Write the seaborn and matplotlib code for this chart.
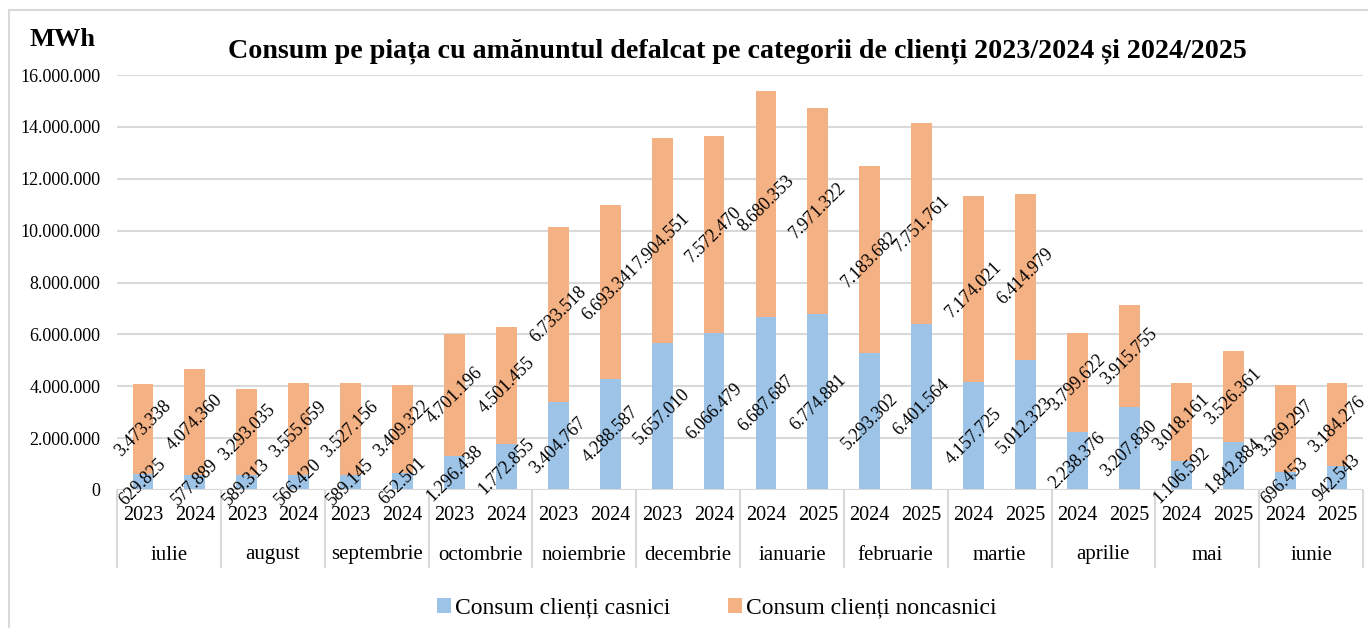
import numpy as np
import pandas as pd
import matplotlib.pyplot as plt
import seaborn as sns
from matplotlib.ticker import FuncFormatter
from matplotlib.patches import Rectangle
import matplotlib.transforms as mtransforms

months = ["iulie", "august", "septembrie", "octombrie", "noiembrie", "decembrie",
          "ianuarie", "februarie", "martie", "aprilie", "mai", "iunie"]
years = [["2023", "2024"]] * 6 + [["2024", "2025"]] * 6

casnici = [629825, 577889, 589313, 566420, 589145, 652501,
           1296438, 1772855, 3404767, 4288587, 5657010, 6066479,
           6687687, 6774881, 5293302, 6401564, 4157725, 5012323,
           2238376, 3207830, 1106592, 1842884, 696453, 942543]
noncasnici = [3473338, 4074360, 3293035, 3555659, 3527156, 3409322,
              4701196, 4501455, 6733518, 6693341, 7904551, 7572470,
              8680353, 7971322, 7183682, 7751761, 7174021, 6414979,
              3799622, 3915755, 3018161, 3526361, 3369297, 3184276]

labels = [f"{m} {y}" for m, ys in zip(months, years) for y in ys]
df = pd.DataFrame({"label": labels, "casnici": casnici, "noncasnici": noncasnici})
df["total"] = df["casnici"] + df["noncasnici"]

blue = "#9DC3E6"
orange = "#F4B183"

sns.set_style("white")
plt.rcParams["font.family"] = ["Liberation Serif", "DejaVu Serif"]
plt.rcParams["text.color"] = "black"
plt.rcParams["ytick.color"] = "black"
plt.rcParams["ytick.labelcolor"] = "black"

W, H = 1368, 628
fig = plt.figure(figsize=(W / 100, H / 100), dpi=100)
# outer chart border
fig.patches.append(Rectangle((9 / W, -0.1), 1.2, 1 - 10 / H + 0.1, transform=fig.transFigure,
                             fill=False, edgecolor="#D9D9D9", linewidth=1.5))

left, right, y0, ytop = 117, 1363, 490, 75
ax = fig.add_axes([left / W, 1 - y0 / H, (right - left) / W, (y0 - ytop) / H])

sns.barplot(data=df, x="label", y="total", color=orange, width=0.4, saturation=1,
            linewidth=0, ax=ax, label="Consum clienți noncasnici", zorder=3)
sns.barplot(data=df, x="label", y="casnici", color=blue, width=0.4, saturation=1,
            linewidth=0, ax=ax, label="Consum clienți casnici", zorder=3)
handles, hl = ax.get_legend_handles_labels()
if ax.get_legend() is not None:
    ax.get_legend().remove()

ax.set_xlim(-0.5, len(labels) - 0.5)
ax.set_ylim(0, 16000000)
ax.set_yticks(np.arange(0, 16000001, 2000000))
ax.yaxis.set_major_formatter(FuncFormatter(lambda v, p: f"{int(v):,}".replace(",", ".")))
ax.tick_params(axis="y", labelsize=13, length=0, pad=12, labelcolor="black")
ax.set_xticks([])
ax.set_xlabel("")
ax.set_ylabel("")
ax.grid(axis="y", color="#D9D9D9", linewidth=1.5, zorder=0)
for s in ax.spines.values():
    s.set_visible(False)
ax.axhline(0, color="#D9D9D9", linewidth=1.5, zorder=4)

# data labels, centred in each segment
fmt = lambda v: f"{v:,}".replace(",", ".")
for i, (c, n) in enumerate(zip(casnici, noncasnici)):
    ax.text(i, c / 2, fmt(c), rotation=45, ha="center", va="center",
            rotation_mode="anchor", fontsize=13, zorder=5, clip_on=False)
    ax.text(i, c + n / 2, fmt(n), rotation=45, ha="center", va="center",
            rotation_mode="anchor", fontsize=13, zorder=5, clip_on=False)

# category axis (years + months)
trans = mtransforms.blended_transform_factory(ax.transData, ax.transAxes)
ah = y0 - ytop
yr_y = -(515 - y0) / ah
mo_y = -(555 - y0) / ah
line_bot = -(567 - y0) / ah
for i, lab in enumerate(labels):
    ax.text(i, yr_y, lab.split()[1], transform=trans, ha="center", va="center", fontsize=14.5)
for k, m in enumerate(months):
    ax.text(2 * k + 0.5, mo_y, m, transform=trans, ha="center", va="center", fontsize=15)
for k in range(len(months) + 1):
    ax.plot([2 * k - 0.5, 2 * k - 0.5], [0, line_bot], transform=trans, color="#D9D9D9",
            linewidth=1.5, clip_on=False)

fig.text(737 / W, 1 - 51 / H,
         "Consum pe piața cu amănuntul defalcat pe categorii de clienți 2023/2024 și 2024/2025",
         ha="center", va="center", fontsize=20.2, fontweight="bold")
fig.text(62 / W, 1 - 40 / H, "MWh", ha="center", va="center", fontsize=19, fontweight="bold")

order = [1, 0]
fig.legend([handles[i] for i in order], [hl[i] for i in order], loc="center",
           bbox_to_anchor=(0.524, 1 - 608 / H), ncol=2, frameon=False, fontsize=17,
           handlelength=0.6, handleheight=0.6, handletextpad=0.2, columnspacing=2.4)

fig.savefig("out.png", dpi=100)
